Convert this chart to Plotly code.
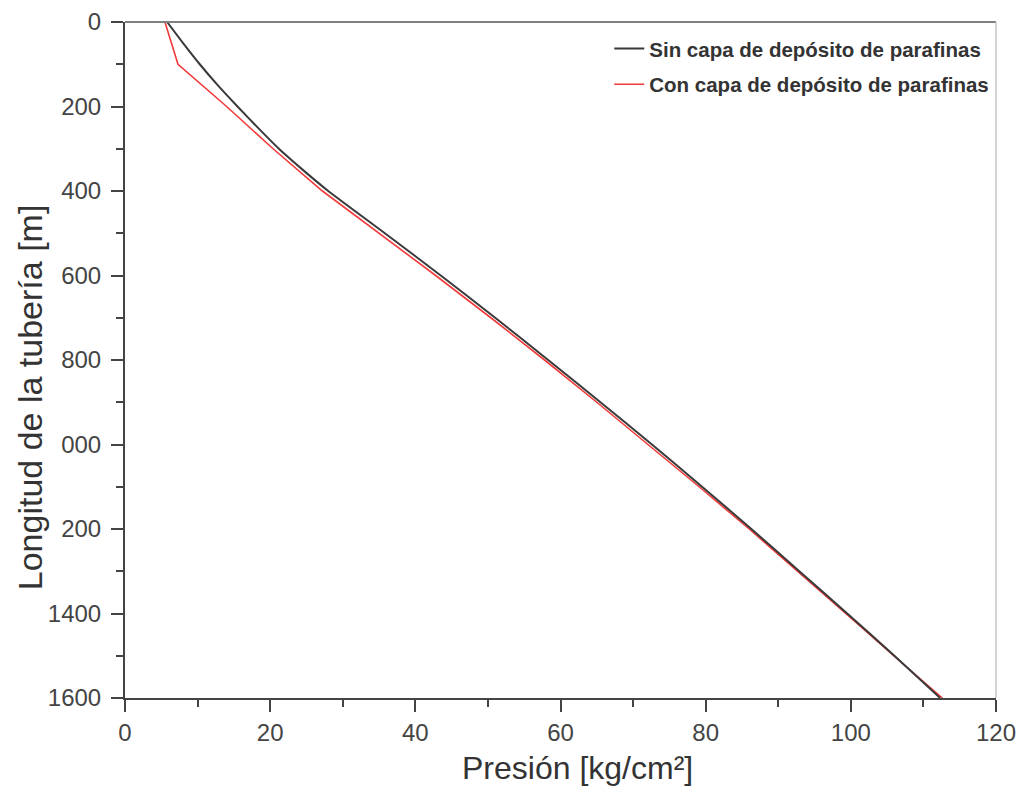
import plotly.graph_objects as go

# Data
length_sin = [0, 50, 100, 150, 200, 250, 300, 350, 400, 500, 600, 700, 800, 900, 1000, 1100, 1200, 1300, 1400, 1500, 1600]
pres_sin = [5.8, 8.0, 10.3, 12.8, 15.5, 18.3, 21.2, 24.5, 28.0, 35.8, 43.5, 51.0, 58.3, 65.5, 72.6, 79.5, 86.3, 92.9, 99.5, 106.0, 112.3]

length_con = [0, 100, 200, 300, 400, 500, 600, 700, 800, 900, 1000, 1100, 1200, 1300, 1400, 1500, 1600]
pres_con = [5.5, 7.3, 14.0, 20.4, 27.2, 35.0, 42.8, 50.4, 57.8, 65.0, 72.1, 79.1, 86.0, 92.7, 99.3, 105.9, 112.6]

x_ticks = [0, 20, 40, 60, 80, 100, 120]
y_ticks = [0, 200, 400, 600, 800, 1000, 1200, 1400, 1600]
y_ticktext = ["0", "200", "400", "600", "800", "000", "200", "1400", "1600"]

name_sin = "Sin capa de depósito de parafinas"
name_con = "Con capa de depósito de parafinas"

FONT = "Liberation Sans, Arial, sans-serif"

fig = go.Figure()
fig.add_trace(go.Scatter(
    x=pres_con, y=length_con, mode="lines", name=name_con,
    line=dict(color="#f23a3a", width=1.6), legendrank=2, legendgroup="b",
))
fig.add_trace(go.Scatter(
    x=pres_sin, y=length_sin, mode="lines", name=name_sin,
    line=dict(color="#3a3a3a", width=2, shape="spline", smoothing=0.6),
    legendrank=1, legendgroup="a",
))

# page has an 8px body margin, so the figure is sized/offset to compensate
fig.update_layout(
    width=1017, height=781,
    margin=dict(l=117, r=29, t=14, b=91, autoexpand=False),
    paper_bgcolor="white", plot_bgcolor="white",
    font=dict(family=FONT, color="#444"),
    showlegend=True,
    legend=dict(
        x=0.556, y=0.99, xanchor="left", yanchor="top",
        bgcolor="rgba(255,255,255,0)", borderwidth=0,
        font=dict(family=FONT, size=20.5, color="#333", weight="bold"),
        traceorder="grouped", tracegroupgap=6,
    ),
    xaxis=dict(
        range=[0, 120], tickvals=x_ticks, ticks="outside", ticklen=12, tickwidth=2,
        tickcolor="#444", showline=True, linecolor="#444", linewidth=2,
        showgrid=False, zeroline=False, tickfont=dict(size=24, color="#444"),
        ticklabelstandoff=0, automargin=False,
        minor=dict(dtick=10, ticks="outside", ticklen=7, tickwidth=2, tickcolor="#444", showgrid=False),
    ),
    yaxis=dict(
        range=[1600, 0], tickvals=y_ticks, ticktext=y_ticktext, ticks="outside",
        ticklen=12, tickwidth=2, tickcolor="#444", showline=True, linecolor="#444",
        linewidth=2, showgrid=False, zeroline=False, automargin=False,
        tickfont=dict(size=24, color="#444"), ticklabelstandoff=5,
        minor=dict(dtick=100, ticks="outside", ticklen=7, tickwidth=2, tickcolor="#444", showgrid=False),
    ),
    shapes=[
        dict(type="line", xref="paper", yref="paper", x0=0, x1=1, y0=1, y1=1,
             line=dict(color="#808080", width=2)),
        dict(type="line", xref="paper", yref="paper", x0=1, x1=1, y0=0, y1=1,
             line=dict(color="#c4c4c4", width=1.5)),
    ],
    annotations=[
        dict(text="Presión [kg/cm²]", xref="paper", yref="paper", x=0.52, y=-0.104,
             xanchor="center", yanchor="middle", showarrow=False,
             font=dict(size=32, color="#333", family=FONT)),
        dict(text="Longitud de la tubería [m]", xref="paper", yref="paper", x=-0.109, y=0.445,
             xanchor="center", yanchor="middle", textangle=-90, showarrow=False,
             font=dict(size=34, color="#333", family=FONT)),
    ],
)

fig.write_html("out.html")
